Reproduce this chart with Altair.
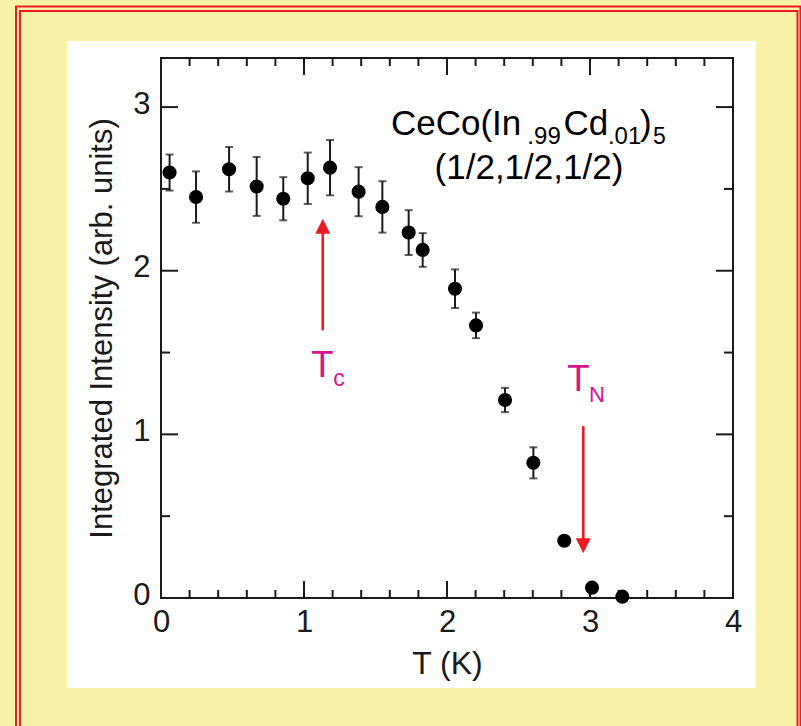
import altair as alt
import pandas as pd

# ---- data ----
T = [0.06, 0.245, 0.476, 0.669, 0.855, 1.026, 1.182, 1.382, 1.548, 1.732,
     1.830, 2.056, 2.203, 2.406, 2.604, 2.820, 3.014, 3.226]
I = [2.60, 2.45, 2.62, 2.515, 2.44, 2.565, 2.63, 2.483, 2.39, 2.233,
     2.127, 1.89, 1.666, 1.21, 0.826, 0.350, 0.063, 0.008]
ERR = [0.11, 0.157, 0.136, 0.18, 0.132, 0.157, 0.169, 0.15, 0.157, 0.137,
       0.103, 0.118, 0.078, 0.074, 0.095, 0.0, 0.0, 0.0]

X_MAJOR = [0, 1, 2, 3, 4]
X_MINOR = [0.2, 0.4, 0.6, 0.8, 1.2, 1.4, 1.6, 1.8, 2.2, 2.4, 2.6, 2.8,
           3.2, 3.4, 3.6, 3.8]
Y_MAJOR = [0, 1, 2, 3]
Y_MINOR = [0.5, 1.5, 2.5]

ARROW_T = [1.131, 2.953]
ARROW_FROM = [1.636, 1.050]
ARROW_TO = [2.24, 0.34]
HEAD_UP = (1.131, 2.318)
HEAD_DOWN = (2.953, 0.273)

LABEL_TEXT = ["CeCo(In", ".99", "Cd", ".01", ")", "5", "T", "c", "T", "N"]
LABEL_T = [1.608, 2.562, 2.815, 3.125, 3.349, 3.441, 1.049, 1.205, 2.839, 2.993]
LABEL_I = [2.830, 2.772, 2.830, 2.772, 2.830, 2.772, 1.349, 1.294, 1.264, 1.198]
LABEL_FS = [35, 24, 35, 24, 35, 23, 37, 23, 37, 22]
LABEL_COL = ["#000000"] * 6 + ["#D5158D"] * 4

LINE2_TEXT = ["(1/2,1/2,1/2)"]
LINE2_T = [2.573]
LINE2_I = [2.562]

# ---- styling ----
FONT = "Liberation Sans"
YELLOW = "#F8F2A8"
RED = "#ED1C24"
INK = "#1a1a1a"
W, H = 572, 540

df = pd.DataFrame({"T": T, "I": I, "e": ERR})
df["lo"] = df["I"] - df["e"]
df["hi"] = df["I"] + df["e"]

xs = alt.Scale(domain=[0, 4], nice=False, zero=False)
ys = alt.Scale(domain=[0, 3.3], nice=False, zero=False)

x_axis = alt.Axis(values=X_MAJOR, domain=False, ticks=False, tickSize=0, grid=False,
                  labelFont=FONT, labelFontSize=31, labelColor=INK, labelPadding=9,
                  labelFlush=False,
                  titleFont=FONT, titleFontSize=32, titleFontWeight="normal",
                  titleColor=INK, titlePadding=11, zindex=1, format="d")
y_axis = alt.Axis(values=Y_MAJOR, domain=False, ticks=False, tickSize=0, grid=False,
                  labelFont=FONT, labelFontSize=31, labelColor=INK, labelPadding=11,
                  labelOffset=-3, labelFlush=False,
                  titleFont=FONT, titleFontSize=31, titleFontWeight="normal",
                  titleColor=INK, titlePadding=14, zindex=1, format="d")


def X(field="T"):
    return alt.X(f"{field}:Q", scale=xs, axis=x_axis, title="T (K)")


def Y(field="I"):
    return alt.Y(f"{field}:Q", scale=ys, axis=y_axis,
                 title="Integrated Intensity (arb. units)")


one = alt.Data(values=[{"k": 1}])

panel = alt.Chart(one).mark_rect(fill="white").encode(
    x=alt.value(-94), x2=alt.value(595), y=alt.value(-17), y2=alt.value(630))
red_outer = alt.Chart(one).mark_rect(fillOpacity=0, stroke=RED, strokeWidth=2).encode(
    x=alt.value(-145), x2=alt.value(639.5), y=alt.value(-51.5), y2=alt.value(800))
red_inner = alt.Chart(one).mark_rect(fillOpacity=0, stroke=RED, strokeWidth=2).encode(
    x=alt.value(-141), x2=alt.value(636.5), y=alt.value(-47), y2=alt.value(800))
frame = alt.Chart(one).mark_rect(fillOpacity=0, stroke=INK, strokeWidth=2).encode(
    x=alt.value(0), x2=alt.value(W), y=alt.value(0), y2=alt.value(H))

xmaj = pd.DataFrame({"T": X_MAJOR})
xmin = pd.DataFrame({"T": X_MINOR})
ymaj = pd.DataFrame({"I": Y_MAJOR})
ymin = pd.DataFrame({"I": Y_MINOR})

tick_layers = []
for d, L in ((xmaj, 17), (xmin, 8)):
    tick_layers.append(alt.Chart(d).mark_rule(color=INK, strokeWidth=2).encode(
        x=X(), y=alt.value(H), y2=alt.value(H - L)))
    tick_layers.append(alt.Chart(d).mark_rule(color=INK, strokeWidth=2).encode(
        x=X(), y=alt.value(0), y2=alt.value(L)))
for d, L in ((ymaj, 17), (ymin, 9)):
    tick_layers.append(alt.Chart(d).mark_rule(color=INK, strokeWidth=2).encode(
        y=Y(), x=alt.value(0), x2=alt.value(L)))
    tick_layers.append(alt.Chart(d).mark_rule(color=INK, strokeWidth=2).encode(
        y=Y(), x=alt.value(W), x2=alt.value(W - L)))

base = alt.Chart(df)
err_rules = base.transform_filter("datum.e > 0").mark_rule(color=INK, strokeWidth=2).encode(
    x=X(), y=Y("lo"), y2="hi:Q")
cap_lo = base.transform_filter("datum.e > 0").mark_tick(
    color=INK, orient="horizontal", size=8, thickness=2).encode(x=X(), y=Y("lo"))
cap_hi = base.transform_filter("datum.e > 0").mark_tick(
    color=INK, orient="horizontal", size=8, thickness=2).encode(x=X(), y=Y("hi"))
points = base.mark_circle(size=200, color="black", opacity=1).encode(x=X(), y=Y())

arr = pd.DataFrame({"T": ARROW_T, "I": ARROW_FROM, "I2": ARROW_TO})
shafts = alt.Chart(arr).mark_rule(color=RED, strokeWidth=2.6).encode(
    x=X(), y=Y(), y2="I2:Q")
head_up = alt.Chart(pd.DataFrame({"T": [HEAD_UP[0]], "I": [HEAD_UP[1]]})).mark_point(
    shape="M0,0L1,2L-1,2Z", filled=True, size=225, color=RED, opacity=1).encode(
    x=X(), y=Y())
head_down = alt.Chart(pd.DataFrame({"T": [HEAD_DOWN[0]], "I": [HEAD_DOWN[1]]})).mark_point(
    shape="M0,0L1,-2L-1,-2Z", filled=True, size=225, color=RED, opacity=1).encode(
    x=X(), y=Y())

lab = pd.DataFrame({"text": LABEL_TEXT, "T": LABEL_T, "I": LABEL_I,
                    "fs": LABEL_FS, "col": LABEL_COL})
labels = alt.Chart(lab).mark_text(align="left", baseline="alphabetic", font=FONT).encode(
    x=X(), y=Y(), text="text:N",
    size=alt.Size("fs:Q", scale=None, legend=None),
    color=alt.Color("col:N", scale=None, legend=None))
line2 = alt.Chart(pd.DataFrame({"text": LINE2_TEXT, "T": LINE2_T, "I": LINE2_I})).mark_text(
    align="center", baseline="alphabetic", font=FONT, fontSize=35, color="black").encode(
    x=X(), y=Y(), text="text:N")

chart = alt.layer(
    panel, red_outer, red_inner, *tick_layers, frame,
    err_rules, cap_lo, cap_hi, points, shafts, head_up, head_down, labels, line2
).properties(
    width=W, height=H, background=YELLOW,
    padding={"left": 161, "top": 58, "right": 68, "bottom": 128},
    autosize=alt.AutoSizeParams(type="none"),
).configure_view(stroke=None)

chart.save("out.html", embed_options={"renderer": "svg", "actions": False})
